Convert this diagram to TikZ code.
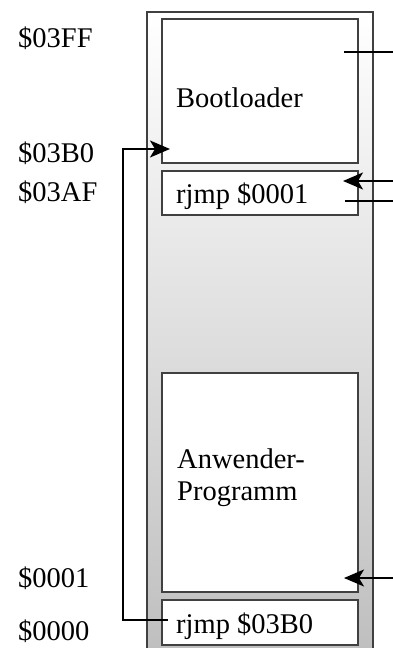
\documentclass[tikz,border=0pt]{standalone}
\usepackage{fontspec}
\setmainfont{Liberation Serif}
\usetikzlibrary{arrows.meta}
\begin{document}
\begin{tikzpicture}[x=1pt,y=-1pt,
  membox/.style={draw=black!75,line width=1.1pt,fill=white,inner sep=0pt,minimum width=196pt},
  lbl/.style={anchor=base west,inner sep=0pt,font=\fontsize{28.5}{32}\selectfont},
  conn/.style={draw=black,line width=1.4pt},
  arr/.style={conn,-{Stealth[length=20pt,width=17pt,inset=5pt]}}]
\useasboundingbox (0,0) rectangle (393,648);
% memory column with gradient
\shade[top color=white,bottom color=gray!50] (147,12) rectangle (373,648);
\draw[black!75,line width=1.1pt] (147,650) -- (147,12) -- (373,12) -- (373,650);
% boxes
\node[membox,minimum height=144pt] (boot) at (260,91) {};
\node[membox,minimum height=44pt] (jmpa) at (260,193) {};
\node[membox,minimum height=219pt] (app) at (260,482.5) {};
\node[membox,minimum height=45pt] (jmpb) at (260,622.5) {};
% texts
\node[lbl] (tboot) at (176,107) {Bootloader};
\node[lbl] (tjmpa) at (176,203) {rjmp \$0001};
\node[lbl] (tapp1) at (177,468) {Anwender-};
\node[lbl] (tapp2) at (177,500) {Programm};
\node[lbl] (tjmpb) at (176,633) {rjmp \$03B0};
% addresses
\node[lbl] (a1) at (18,47) {\$03FF};
\node[lbl] (a2) at (18,162) {\$03B0};
\node[lbl] (a3) at (18,201) {\$03AF};
\node[lbl] (a4) at (18,587) {\$0001};
\node[lbl] (a5) at (18,640) {\$0000};
% connector coordinates
\coordinate (r1s) at (393,52);  \coordinate (r1e) at (344,52);
\coordinate (r2s) at (393,181); \coordinate (r2e) at (343,181);
\coordinate (r3s) at (393,201); \coordinate (r3e) at (345,201);
\coordinate (r4s) at (393,578); \coordinate (r4e) at (344,578);
\coordinate (ls) at (168,620);
\coordinate (lc1) at (123,620);
\coordinate (lc2) at (123,149);
\coordinate (le) at (170,149);
% connectors
\draw[conn] (r1s) -- (r1e);
\draw[arr] (r2s) -- (r2e);
\draw[conn] (r3s) -- (r3e);
\draw[arr] (r4s) -- (r4e);
\draw[arr] (ls) -- (lc1) -- (lc2) -- (le);
\end{tikzpicture}
\end{document}
